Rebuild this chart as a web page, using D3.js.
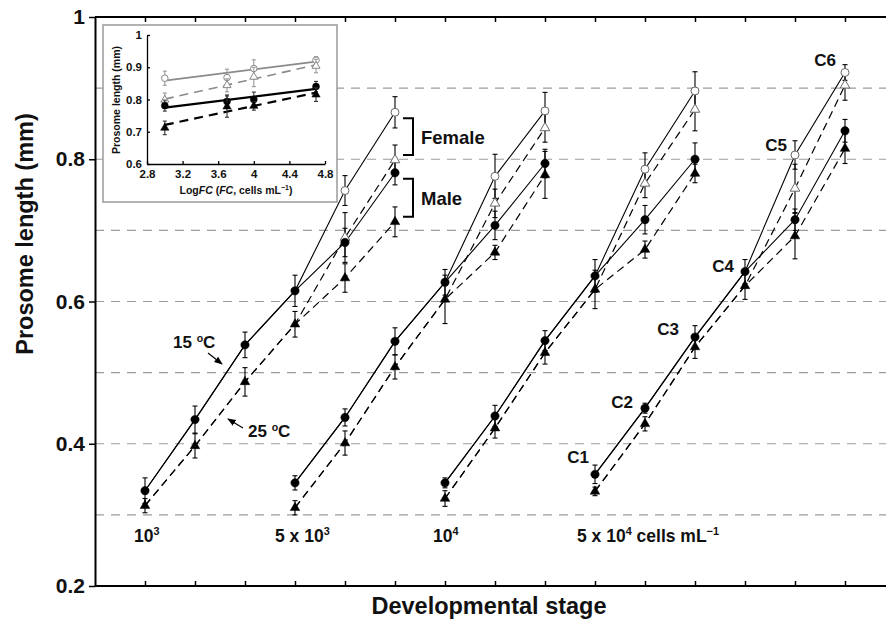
<!DOCTYPE html>
<html>
  <head>
    <meta charset="UTF-8">
    <title>Prosome length by developmental stage</title>
    <style>
    body {
      margin: 0;
      background: #fff;
    }
    svg {
      display: block;
      font-family: "Liberation Sans", Arial, sans-serif;
    }
    svg text {
      font-family: "Liberation Sans", Arial, sans-serif;
      fill: #111;
    }
    .grid {
      stroke: #9c9c9c;
      stroke-width: 1.2px;
      stroke-dasharray: 9,7;
    }
    .axis path, .axis line {
      stroke: #000;
    }
    .axis path {
      stroke-width: 2px;
    }
    .axis line {
      stroke-width: 1.5px;
    }
    .main-y text {
      font-size: 21px;
      font-weight: bold;
    }
    .inset-axis text {
      font-size: 11.5px;
      font-weight: bold;
    }
    .inset-axis path, .inset-axis line {
      stroke: #000;
      stroke-width: 1.3px;
    }
    .line15 {
      fill: none;
      stroke: #000;
      stroke-width: 1.1px;
    }
    .line25 {
      fill: none;
      stroke: #000;
      stroke-width: 1.2px;
      stroke-dasharray: 8,5;
    }
    .bold {
      font-weight: bold;
    }
    </style>
  </head>
  <body>
    <svg width="886" height="625"></svg>
    <script src="https://d3js.org/d3.v7.min.js"></script>
    <script>
// ---- data ------------------------------------------------------------
var foodConc = [1e3, 5e3, 1e4, 5e4];           // cells mL-1
var stages = ["C1", "C2", "C3", "C4", "C5", "C6"];
var groupLabels = [
  [["10", 0], ["3", 1]],
  [["5 x 10", 0], ["3", 1]],
  [["10", 0], ["4", 1]],
  [["5 x 10", 0], ["4", 1], [" cells mL", 0], ["\u22121", 1]]
];
var yTicks = [0.2, 0.4, 0.6, 0.8, 1];
var gridVals = [0.3, 0.4, 0.5, 0.6, 0.7, 0.8, 0.9];
var insetXTicks = [2.8, 3.2, 3.6, 4, 4.4, 4.8];
var insetYTicks = [0.6, 0.7, 0.8, 0.9, 1];

// C1-C4 (sexes pooled), one row per food concentration
var juv15    = [[0.334, 0.434, 0.539, 0.615], [0.345, 0.437, 0.544, 0.627], [0.345, 0.439, 0.545, 0.636], [0.357, 0.450, 0.550, 0.642]];
var juv15Err = [[0.018, 0.019, 0.018, 0.022], [0.010, 0.012, 0.019, 0.018], [0.007, 0.015, 0.014, 0.023], [0.013, 0.007, 0.016, 0.017]];
var juv25    = [[0.313, 0.397, 0.487, 0.568], [0.310, 0.401, 0.508, 0.603], [0.323, 0.422, 0.528, 0.617], [0.333, 0.428, 0.536, 0.622]];
var juv25Err = [[0.010, 0.017, 0.020, 0.018], [0.010, 0.017, 0.017, 0.034], [0.011, 0.014, 0.016, 0.027], [0.006, 0.010, 0.016, 0.019]];

// C5, C6 by sex
var fem15     = [[0.756, 0.866], [0.776, 0.868], [0.786, 0.896], [0.806, 0.922]];
var fem15Err  = [[0.021, 0.022], [0.031, 0.026], [0.023, 0.027], [0.020, 0.011]];
var fem25     = [[0.690, 0.799], [0.738, 0.844], [0.766, 0.870], [0.759, 0.904]];
var fem25Err  = [[0.035, 0.021], [0.020, 0.020], [0.020, 0.030], [0.034, 0.021]];
var male15    = [[0.683, 0.781], [0.707, 0.794], [0.715, 0.800], [0.715, 0.840]];
var male15Err = [[0.020, 0.017], [0.020, 0.020], [0.020, 0.023], [0.015, 0.016]];
var male25    = [[0.633, 0.712], [0.669, 0.778], [0.673, 0.780], [0.692, 0.815]];
var male25Err = [[0.020, 0.021], [0.010, 0.033], [0.012, 0.013], [0.032, 0.021]];

// ---- setup -----------------------------------------------------------
var svg = d3.select("svg"),
    plotLeft = 95, plotTop = 17, plotBottom = 586;

var x = d3.scaleLinear().domain([-1, 14.8]).range([plotLeft, 885]),
    y = d3.scaleLinear().domain([0.2, 1]).range([plotBottom, plotTop]);

var defs = svg.append("defs");
defs.append("marker")
    .attr("id", "arrow")
    .attr("viewBox", "0 0 10 10")
    .attr("refX", 9).attr("refY", 5)
    .attr("markerWidth", 7).attr("markerHeight", 7)
    .attr("orient", "auto")
  .append("path")
    .attr("d", "M0,1 L10,5 L0,9 z")
    .attr("fill", "#000");

// stage index on the shared x axis: each food group is shifted 3 stages
function pos(g, s) { return 3 * g + s; }

// one path C1..C6 for a given group / temperature / sex
function branch(g, juv, juvErr, adult, adultErr) {
  var pts = juv[g].map((v, s) => ({pos: pos(g, s), v: v, e: juvErr[g][s]}));
  adult[g].forEach((v, i) => pts.push({pos: pos(g, 4 + i), v: v, e: adultErr[g][i]}));
  return pts;
}

var line = d3.line().x(d => x(d.pos)).y(d => y(d.v));

// gridlines
svg.append("g").selectAll("line")
    .data(gridVals)
  .enter().append("line")
    .attr("class", "grid")
    .attr("x1", plotLeft).attr("x2", 886)
    .attr("y1", d => y(d)).attr("y2", d => y(d));

// ---- series ----------------------------------------------------------
var plot = svg.append("g");

foodConc.forEach((fc, g) => {
  var f15 = branch(g, juv15, juv15Err, fem15, fem15Err),
      m15 = branch(g, juv15, juv15Err, male15, male15Err),
      f25 = branch(g, juv25, juv25Err, fem25, fem25Err),
      m25 = branch(g, juv25, juv25Err, male25, male25Err);

  [f25, m25].forEach(p => plot.append("path").attr("class", "line25").attr("d", line(p)));
  [f15, m15].forEach(p => plot.append("path").attr("class", "line15").attr("d", line(p)));

  // error bars (juvenile part drawn once)
  var bars = f15.concat(m15.slice(4), f25, m25.slice(4));
  drawErr(plot, bars, x, y, 2.5, "#000");

  drawPts(plot, f15.slice(0, 4), d3.symbolCircle, false, 55, x, y);
  drawPts(plot, f25.slice(0, 4), d3.symbolTriangle, false, 40, x, y);
  drawPts(plot, f15.slice(4), d3.symbolCircle, true, 50, x, y);
  drawPts(plot, f25.slice(4), d3.symbolTriangle, true, 40, x, y);
  drawPts(plot, m15.slice(4), d3.symbolCircle, false, 55, x, y);
  drawPts(plot, m25.slice(4), d3.symbolTriangle, false, 40, x, y);
});

function drawErr(sel, pts, xs, ys, cap, color) {
  var g = sel.append("g").attr("stroke", color).attr("stroke-width", 1.1);
  pts.forEach(d => {
    var cx = xs(d.pos !== undefined ? d.pos : d.x);
    g.append("line").attr("x1", cx).attr("x2", cx).attr("y1", ys(d.v - d.e)).attr("y2", ys(d.v + d.e));
    [d.v - d.e, d.v + d.e].forEach(v => {
      g.append("line").attr("x1", cx - cap).attr("x2", cx + cap).attr("y1", ys(v)).attr("y2", ys(v));
    });
  });
}

function drawPts(sel, pts, shape, open, size, xs, ys, color) {
  color = color || (open ? "#666" : "#000");
  sel.append("g").selectAll("path")
      .data(pts)
    .enter().append("path")
      .attr("d", d3.symbol().type(shape).size(size))
      .attr("transform", d => "translate(" + xs(d.pos !== undefined ? d.pos : d.x) + "," + ys(d.v) + ")")
      .attr("fill", open ? "#fff" : color)
      .attr("stroke", color)
      .attr("stroke-width", open ? 1 : 0.5);
}

// ---- axes ------------------------------------------------------------
svg.append("g")
    .attr("class", "axis")
    .attr("transform", "translate(0," + plotBottom + ")")
    .call(d3.axisBottom(x).tickValues(d3.range(15)).tickSizeInner(-5).tickSizeOuter(0).tickFormat(""))
    .select(".domain").attr("d", "M" + plotLeft + ",0H886");

svg.append("g")
    .attr("class", "axis")
    .attr("transform", "translate(0," + plotTop + ")")
    .call(d3.axisTop(x).tickValues(d3.range(15)).tickSizeInner(-5).tickSizeOuter(0).tickFormat(""))
    .select(".domain").attr("d", "M" + plotLeft + ",0H886");

svg.append("g")
    .attr("class", "axis main-y")
    .attr("transform", "translate(" + plotLeft + ",0)")
    .call(d3.axisLeft(y).tickValues(yTicks).tickSizeInner(6).tickSizeOuter(0).tickPadding(4).tickFormat(d3.format("~g")));

svg.append("text")
    .attr("class", "bold")
    .attr("transform", "translate(33,234) rotate(-90)")
    .attr("text-anchor", "middle")
    .style("font-size", "23.5px")
    .text("Prosome length (mm)");

svg.append("text")
    .attr("class", "bold")
    .attr("x", 489).attr("y", 614)
    .attr("text-anchor", "middle")
    .style("font-size", "23.5px")
    .text("Developmental stage");

// ---- labels ----------------------------------------------------------
function richText(sel, parts, size) {
  var t = sel.append("text").attr("class", "bold").style("font-size", size + "px");
  var raised = false;
  parts.forEach(p => {
    var ts = t.append("tspan").text(p[0]);
    if (p[1] && !raised) { ts.attr("dy", -0.38 * size).style("font-size", (0.62 * size) + "px"); raised = true; }
    else if (p[1]) { ts.style("font-size", (0.62 * size) + "px"); }
    else if (raised) { ts.attr("dy", 0.38 * size); raised = false; }
  });
  return t;
}

var groupDx = [-11, -20, -12, -18];
groupLabels.forEach((parts, g) => {
  richText(svg, parts, 17.5).attr("x", x(pos(g, 0)) + groupDx[g]).attr("y", 542);
});

// stage names beside the 5 x 10^4 series
var stageOff = [[-6, -11], [-12, 0], [-16, -2], [-11, 0], [-8, -4], [-9, -6]];
stages.forEach((s, i) => {
  var v = i < 4 ? juv15[3][i] : fem15[3][i - 4];
  svg.append("text")
      .attr("class", "bold")
      .attr("text-anchor", "end")
      .attr("x", x(pos(3, i)) + stageOff[i][0])
      .attr("y", y(v) + stageOff[i][1])
      .style("font-size", "17px")
      .text(s);
});

// temperature call-outs
richText(svg, [["15 ", 0], ["o", 1], ["C", 0]], 17).attr("x", 173).attr("y", 348);
richText(svg, [["25 ", 0], ["o", 1], ["C", 0]], 17).attr("x", 248).attr("y", 437);
svg.append("line").attr("x1", 208).attr("y1", 353).attr("x2", 222).attr("y2", 364)
    .attr("stroke", "#000").attr("stroke-width", 1.2).attr("marker-end", "url(#arrow)");
svg.append("line").attr("x1", 243).attr("y1", 428).attr("x2", 228).attr("y2", 419)
    .attr("stroke", "#000").attr("stroke-width", 1.2).attr("marker-end", "url(#arrow)");

// sex brackets on the 10^3 series
function bracket(y1, y2, label) {
  var bx = x(pos(0, 5)) + 18;
  svg.append("path")
      .attr("d", "M" + (bx - 10) + "," + y1 + "H" + bx + "V" + y2 + "H" + (bx - 10))
      .attr("fill", "none").attr("stroke", "#000").attr("stroke-width", 2);
  svg.append("text")
      .attr("class", "bold")
      .attr("x", bx + 8).attr("y", (y1 + y2) / 2 + 7)
      .style("font-size", "18.5px")
      .text(label);
}
bracket(y(fem15[0][1]) + 6, y(fem25[0][1]) - 5, "Female");
bracket(y(male15[0][1]) + 6, y(male25[0][1]) - 5, "Male");

// ---- inset: adult (C6) length vs log food concentration --------------
var logFC = foodConc.map(Math.log10);
var ix = d3.scaleLinear().domain([2.8, 4.8]).range([147, 325]),
    iy = d3.scaleLinear().domain([0.6, 1]).range([164, 35]);

svg.append("rect")
    .attr("x", 103).attr("y", 25).attr("width", 234).attr("height", 177)
    .attr("fill", "#fff").attr("stroke", "#9a9a9a").attr("stroke-width", 1.5);

var inset = svg.append("g");

inset.append("g")
    .attr("class", "inset-axis")
    .attr("transform", "translate(0," + iy(0.6) + ")")
    .call(d3.axisBottom(ix).tickValues(insetXTicks).tickSizeInner(-3).tickSizeOuter(0).tickPadding(6).tickFormat(d3.format("~g")));

inset.append("g")
    .attr("class", "inset-axis")
    .attr("transform", "translate(" + ix(2.8) + ",0)")
    .call(d3.axisLeft(iy).tickValues(insetYTicks).tickSizeInner(-3).tickSizeOuter(0).tickPadding(5).tickFormat(d3.format("~g")));

function fit(xs, ys) {
  var mx = d3.mean(xs), my = d3.mean(ys);
  var b = d3.sum(xs, (v, i) => (v - mx) * (ys[i] - my)) / d3.sum(xs, v => (v - mx) * (v - mx));
  return v => my + b * (v - mx);
}

var insetSeries = [
  {vals: fem15,  err: fem15Err,  color: "#8a8a8a", dash: null,  w: 1.6, shape: d3.symbolCircle,   open: true,  size: 34},
  {vals: fem25,  err: fem25Err,  color: "#8a8a8a", dash: "9,6", w: 1.6, shape: d3.symbolTriangle, open: true,  size: 28},
  {vals: male15, err: male15Err, color: "#000",    dash: null,  w: 2.2, shape: d3.symbolCircle,   open: false, size: 38},
  {vals: male25, err: male25Err, color: "#000",    dash: "9,6", w: 2.2, shape: d3.symbolTriangle, open: false, size: 30}
];

insetSeries.forEach(s => {
  var pts = logFC.map((lx, g) => ({x: lx, v: s.vals[g][1], e: s.err[g][1]}));
  var f = fit(pts.map(d => d.x), pts.map(d => d.v));
  inset.append("line")
      .attr("x1", ix(logFC[0])).attr("y1", iy(f(logFC[0])))
      .attr("x2", ix(logFC[3])).attr("y2", iy(f(logFC[3])))
      .attr("stroke", s.color).attr("stroke-width", s.w)
      .attr("stroke-dasharray", s.dash);
  drawErr(inset, pts, ix, iy, 2, s.open ? "#999" : "#333");
  drawPts(inset, pts, s.shape, s.open, s.size, ix, iy, s.open ? "#888" : "#000");
});

inset.append("text")
    .attr("class", "bold")
    .attr("transform", "translate(120,100) rotate(-90)")
    .attr("text-anchor", "middle")
    .style("font-size", "10.5px")
    .text("Prosome length (mm)");

var xl = inset.append("text")
    .attr("class", "bold")
    .attr("x", 236).attr("y", 194)
    .attr("text-anchor", "middle")
    .style("font-size", "10.5px");
xl.append("tspan").text("Log");
xl.append("tspan").style("font-style", "italic").text("FC");
xl.append("tspan").text(" (");
xl.append("tspan").style("font-style", "italic").text("FC");
xl.append("tspan").text(", cells mL");
xl.append("tspan").attr("dy", -4).style("font-size", "7px").text("\u22121");
xl.append("tspan").attr("dy", 4).text(")");
    </script>
  </body>
</html>
